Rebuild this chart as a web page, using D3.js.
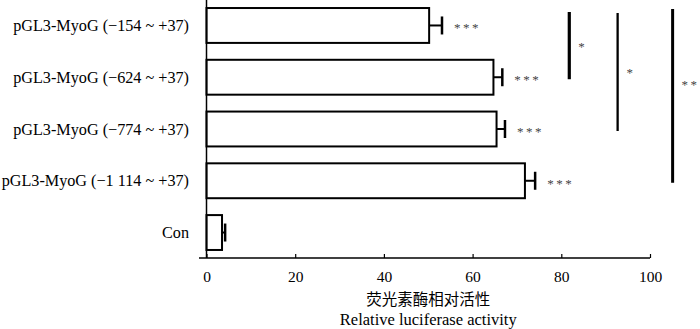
<!DOCTYPE html>
<html>
<head>
<meta charset="utf-8">
<script src="https://cdn.jsdelivr.net/npm/d3@7"></script>
<style>
  body { margin: 0; background: #fff; }
  svg { display: block; font-family: "Liberation Serif", "Times New Roman", serif; }
</style>
</head>
<body>
<svg width="700" height="329"></svg>
<script>
// chart data
var categories = ["pGL3-MyoG (\u2212154 ~ +37)", "pGL3-MyoG (\u2212624 ~ +37)", "pGL3-MyoG (\u2212774 ~ +37)", "pGL3-MyoG (\u22121 114 ~ +37)", "Con"];
var values = [50.2, 64.7, 65.4, 71.8, 3.5];
var errors = [2.9, 2.0, 1.9, 2.3, 0.7];
var marks = ["***", "***", "***", "***", ""];
var xTicks = [0, 20, 40, 60, 80, 100];

// comparison brackets (from / to category index, label)
var compFrom = [0, 0, 0];
var compTo = [1, 2, 3];
var compLabels = ["*", "*", "**"];

const svg = d3.select('svg');

// plot area (don't call it "top", window.top is taken)
var plotLeft = 206.5, plotRight = 650, plotTop = 0, plotBottom = 258;

const xScale = d3.scaleLinear().domain([0, 100]).range([plotLeft, plotRight]);
const yScale = d3.scaleBand()
	.domain(categories)
	.range([plotTop, plotBottom])
	.paddingInner(0.326)
	.paddingOuter(0.155);

var list = categories.map((c, i) => ({name: c, value: values[i], err: errors[i], mark: marks[i]}));

// bars
svg.selectAll('.bar')
	.data(list)
	.enter()
	.append('rect')
	.classed('bar', true)
	.attr('x', xScale(0))
	.attr('y', d => yScale(d.name))
	.attr('width', d => xScale(d.value) - xScale(0))
	.attr('height', yScale.bandwidth())
	.style('fill', 'white')
	.style('stroke', 'black')
	.style('stroke-width', 2);

// error bars
var errG = svg.selectAll('.err').data(list).enter().append('g').classed('err', true);
errG.append('line')
	.attr('x1', d => xScale(d.value))
	.attr('x2', d => xScale(d.value + d.err))
	.attr('y1', d => yScale(d.name) + yScale.bandwidth() / 2)
	.attr('y2', d => yScale(d.name) + yScale.bandwidth() / 2)
	.style('stroke', 'black').style('stroke-width', 2);
errG.append('line')
	.attr('x1', d => xScale(d.value + d.err))
	.attr('x2', d => xScale(d.value + d.err))
	.attr('y1', d => yScale(d.name) + yScale.bandwidth() / 2 - 9)
	.attr('y2', d => yScale(d.name) + yScale.bandwidth() / 2 + 9)
	.style('stroke', 'black').style('stroke-width', 2.5);

// stars beside bars
svg.selectAll('.mark')
	.data(list)
	.enter()
	.append('text')
	.classed('mark', true)
	.attr('x', d => xScale(d.value + d.err) + 12)
	.attr('y', d => yScale(d.name) + yScale.bandwidth() / 2 + 7)
	.style('font-size', '13px')
	.style('letter-spacing', '2.5px')
	.style('fill', '#444')
	.text(d => d.mark);

// category labels
svg.selectAll('.label')
	.data(list)
	.enter()
	.append('text')
	.classed('label', true)
	.attr('x', 189)
	.attr('y', d => yScale(d.name) + yScale.bandwidth() / 2)
	.attr('dy', '0.35em')
	.attr('text-anchor', 'end')
	.style('font-size', '16.2px')
	.text(d => d.name);

// y axis line
svg.append('line')
	.attr('x1', plotLeft).attr('x2', plotLeft)
	.attr('y1', 0).attr('y2', plotBottom)
	.style('stroke', 'black').style('stroke-width', 1.5);

// x axis
const xAxis = svg.append('g')
	.attr('transform', 'translate(0,' + plotBottom + ')')
	.call(d3.axisBottom(xScale).tickValues(xTicks).tickSize(-4).tickSizeOuter(0).tickPadding(13));
xAxis.select('.domain').attr('d', 'M199,0H' + plotRight).style('stroke-width', 1.5);
xAxis.selectAll('.tick line').style('stroke-width', 1.2);
xAxis.selectAll('.tick text')
	.style('font-family', '"Liberation Serif", serif')
	.style('font-size', '15.5px');

// axis titles
svg.append('text')
	.attr('x', (plotLeft + plotRight) / 2)
	.attr('y', 305)
	.attr('text-anchor', 'middle')
	.style('font-family', '"Noto Sans CJK SC", sans-serif')
	.style('font-size', '15.5px')
	.text('荧光素酶相对活性');
svg.append('text')
	.attr('x', (plotLeft + plotRight) / 2)
	.attr('y', 325)
	.attr('text-anchor', 'middle')
	.style('font-size', '16.5px')
	.text('Relative luciferase activity');

// significance brackets
var compX = [81.8, 92.7, 105.1];
var compW = [3.2, 2.3, 3];
var compTop = [12, 13, 9];
compLabels.forEach(function(lab, i) {
	var y1 = compTop[i];
	var y2 = yScale(categories[compTo[i]]) + yScale.bandwidth() / 2 + 2;
	svg.append('line')
		.attr('x1', xScale(compX[i])).attr('x2', xScale(compX[i]))
		.attr('y1', y1).attr('y2', y2)
		.style('stroke', 'black').style('stroke-width', compW[i]);
	svg.append('text')
		.attr('x', xScale(compX[i]) + 9)
		.attr('y', i == 2 ? 89 : (y1 + y2) / 2 + 5)
		.style('font-size', '13px')
		.style('letter-spacing', '2.5px')
		.style('fill', '#444')
		.text(lab);
});
</script>
</body>
</html>
